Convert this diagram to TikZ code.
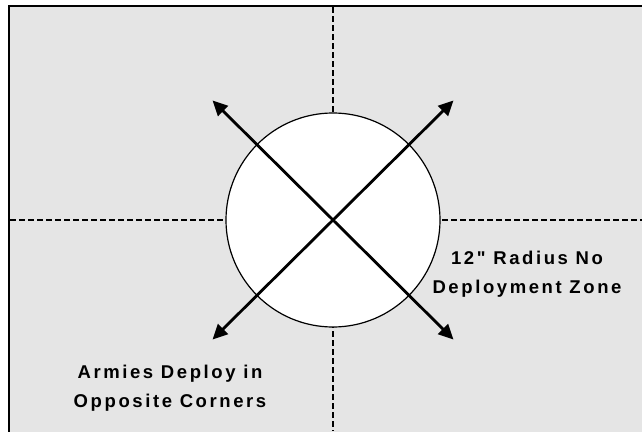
\documentclass[tikz,border=0pt]{standalone}
\usepackage{fontspec}
\setmainfont{Liberation Sans}
\newfontfamily\lblfont[LetterSpace=14]{Liberation Sans}
\usetikzlibrary{arrows.meta}
\definecolor{boardgray}{HTML}{E5E5E5}
\tikzset{
  divider/.style={line width=1.1pt, dash pattern=on 6pt off 3pt},
  deployarrow/.style={line width=2.8pt, {Triangle[length=15pt,width=14pt]}-{Triangle[length=15pt,width=14pt]}},
  zonelbl/.style={font=\lblfont\bfseries\fontsize{18.5}{29.5}\selectfont, align=center, inner sep=0pt},
}
\begin{document}
\begin{tikzpicture}[x=1pt,y=-1pt]
\useasboundingbox (0,0) rectangle (642,431);
\clip (0,0) rectangle (642,431);
\fill[boardgray] (9,6) rectangle (650,440);
\draw[line width=2.6pt] (9,440) -- (9,6) -- (650,6);
\coordinate (vtop) at (333,7);
\coordinate (vbot) at (333,431);
\coordinate (hl) at (10,220);
\coordinate (hr) at (642,220);
\draw[divider] (vtop) -- (vbot);
\draw[divider] (hl) -- (hr);
\node[circle, draw, fill=white, line width=1.2pt, minimum size=214pt, inner sep=0pt] (zone) at (333,220) {};
\coordinate (tl) at (212.5,100.5);
\coordinate (tr) at (453.5,100.5);
\coordinate (bl) at (212.5,339.5);
\coordinate (br) at (453.5,339.5);
\draw[deployarrow] (bl) -- (tr);
\draw[deployarrow] (tl) -- (br);
\node[zonelbl] (corners) at (170,388) {Armies Deploy in\\Opposite Corners};
\node[zonelbl] (nozone) at (527,274) {12" Radius No\\Deployment Zone};
\end{tikzpicture}
\end{document}
